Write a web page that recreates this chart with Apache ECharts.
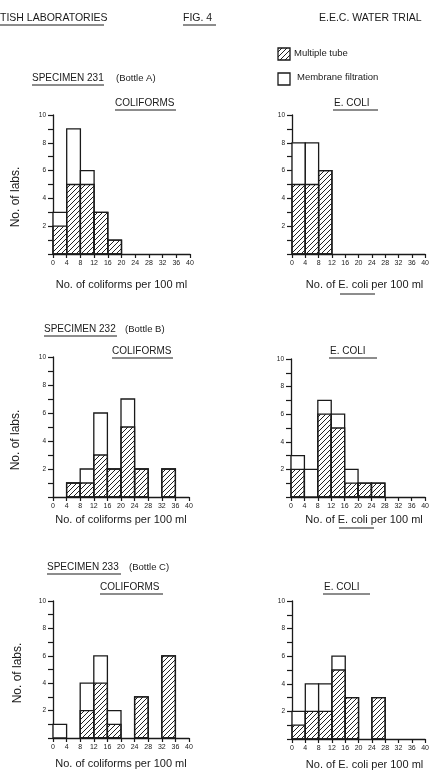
<!DOCTYPE html>
<html>
<head>
<meta charset="utf-8">
<title>FIG. 4 - E.E.C. water trial</title>
<script src="https://cdn.jsdelivr.net/npm/echarts@6/dist/echarts.min.js"></script>
<style>
    html,body{margin:0;padding:0;background:#fff;}
    #container{width:432px;height:771px;}
</style>
</head>
<body>
<div id="container"></div>
<script>
//bin start values (each bin is 4 wide, 0..40)
var binStarts = [0, 4, 8, 12, 16, 20, 24, 28, 32, 36];
var binWidth = 4;

//specimen 231 (bottle A)
var coli231Tube     = [2, 5, 5, 3, 1, 0, 0, 0, 0, 0];
var coli231Membrane = [3, 9, 6, 3, 1, 0, 0, 0, 0, 0];
var ecoli231Tube     = [5, 5, 6, 0, 0, 0, 0, 0, 0, 0];
var ecoli231Membrane = [8, 8, 6, 0, 0, 0, 0, 0, 0, 0];
//specimen 232 (bottle B)
var coli232Tube     = [0, 1, 1, 3, 2, 5, 2, 0, 2, 0];
var coli232Membrane = [0, 1, 2, 6, 2, 7, 2, 0, 2, 0];
var ecoli232Tube     = [2, 0, 6, 5, 1, 1, 1, 0, 0, 0];
var ecoli232Membrane = [3, 2, 7, 6, 2, 1, 1, 0, 0, 0];
//specimen 233 (bottle C)
var coli233Tube     = [0, 0, 2, 4, 1, 0, 3, 0, 6, 0];
var coli233Membrane = [1, 0, 4, 6, 2, 0, 3, 0, 6, 0];
var ecoli233Tube     = [1, 2, 2, 5, 3, 0, 3, 0, 0, 0];
var ecoli233Membrane = [2, 4, 4, 6, 3, 0, 3, 0, 0, 0];

var FONT = '"Liberation Sans", Arial, sans-serif';
var INK = '#1a1a1a';

//hatch pattern for multiple tube
function makeHatch(){
    var s = 5;
    var c = document.createElement('canvas');
    c.width = s; c.height = s;
    var ctx = c.getContext('2d');
    ctx.strokeStyle = '#222';
    ctx.lineWidth = 1;
    ctx.beginPath();
    ctx.moveTo(0, s); ctx.lineTo(s, 0);
    ctx.moveTo(-1, 1); ctx.lineTo(1, -1);
    ctx.moveTo(s - 1, s + 1); ctx.lineTo(s + 1, s - 1);
    ctx.stroke();
    return c;
}
var hatch = {image: makeHatch(), repeat: 'repeat'};

//panels: grid box + data
var panels = [
    {grid:{left:53, top:115, width:137, height:139}, tube:coli231Tube, membrane:coli231Membrane, name:'No. of coliforms per 100 ml', gap:25, pad:0},
    {grid:{left:292, top:115, width:135, height:139}, tube:ecoli231Tube, membrane:ecoli231Membrane, name:'No. of E. coli per 100 ml', gap:25, pad:12},
    {grid:{left:53, top:357, width:136, height:140}, tube:coli232Tube, membrane:coli232Membrane, name:'No. of coliforms per 100 ml', gap:17, pad:0},
    {grid:{left:291, top:359, width:136, height:138}, tube:ecoli232Tube, membrane:ecoli232Membrane, name:'No. of E. coli per 100 ml', gap:17, pad:12},
    {grid:{left:53, top:601, width:136, height:137}, tube:coli233Tube, membrane:coli233Membrane, name:'No. of coliforms per 100 ml', gap:20, pad:0},
    {grid:{left:292, top:601, width:136, height:139}, tube:ecoli233Tube, membrane:ecoli233Membrane, name:'No. of E. coli per 100 ml', gap:20, pad:12}
];

function binData(counts){
    var out = [];
    for(var i = 0; i < counts.length; i++){
        if(counts[i] > 0){
            out.push([binStarts[i], binStarts[i] + binWidth, counts[i]]);
        }
    }
    return out;
}

function histItem(fill){
    return function(params, api){
        var p0 = api.coord([api.value(0), 0]);
        var p1 = api.coord([api.value(1), api.value(2)]);
        return {
            type: 'rect',
            shape: {x: p0[0], y: p1[1], width: p1[0] - p0[0], height: p0[1] - p1[1]},
            style: {fill: fill, stroke: INK, lineWidth: 1.3}
        };
    };
}

var grids = [], xAxes = [], yAxes = [], series = [];
for(var i = 0; i < panels.length; i++){
    var p = panels[i];
    grids.push(p.grid);
    xAxes.push({
        type: 'value', gridIndex: i, min: 0, max: 40, interval: 4,
        name: p.name, nameLocation: 'middle', nameGap: p.gap,
        nameTextStyle: {fontFamily: FONT, fontSize: 11, color: INK, padding: [0, 0, 0, p.pad]},
        axisLine: {lineStyle: {color: INK, width: 1.3}},
        axisTick: {show: true, length: 4, lineStyle: {color: INK, width: 1.2}},
        axisLabel: {fontFamily: FONT, fontSize: 7, color: INK, margin: 6},
        splitLine: {show: false}
    });
    yAxes.push({
        type: 'value', gridIndex: i, min: 0, max: 10, interval: 1,
        axisLine: {show: true, lineStyle: {color: INK, width: 1.3}},
        axisTick: {show: true, length: 5, lineStyle: {color: INK, width: 1.2}},
        axisLabel: {
            fontFamily: FONT, fontSize: 6.5, color: INK, margin: 7,
            formatter: function(v){ return (v > 0 && v % 2 === 0) ? String(v) : ''; }
        },
        splitLine: {show: false}
    });
    //membrane filtration outlines first, hatched multiple tube over them
    series.push({
        name: 'Membrane filtration', type: 'custom', xAxisIndex: i, yAxisIndex: i,
        renderItem: histItem('#fff'), data: binData(p.membrane), silent: true
    });
    series.push({
        name: 'Multiple tube', type: 'custom', xAxisIndex: i, yAxisIndex: i,
        renderItem: histItem(hatch), data: binData(p.tube), silent: true
    });
}

//texts
function txt(str, x, y, size){
    return {type: 'text', x: x, y: y, style: {text: str, font: size + 'px ' + FONT, fill: INK, textVerticalAlign: 'middle'}};
}
function uline(x1, x2, y){
    return {type: 'line', shape: {x1: x1, y1: y, x2: x2, y2: y}, style: {stroke: INK, lineWidth: 1}};
}
function yName(x, cy){
    return {
        type: 'text', x: x, y: cy, rotation: Math.PI / 2,
        style: {text: 'No. of labs.', font: '12px ' + FONT, fill: INK, textAlign: 'center', textVerticalAlign: 'middle'}
    };
}

var graphic = [
    //header
    txt('TISH LABORATORIES', 0, 18, 10.5),
    uline(0, 104, 25),
    txt('FIG. 4', 183, 18, 10.5),
    uline(183, 216, 25),
    txt('E.E.C. WATER TRIAL', 319, 18, 10.5),
    //legend
    {type:'rect', shape:{x:278, y:48, width:12, height:12}, style:{fill:hatch, stroke:INK, lineWidth:1.3}},
    txt('Multiple tube', 294, 53, 9.5),
    {type:'rect', shape:{x:278, y:73, width:12, height:12}, style:{fill:'#fff', stroke:INK, lineWidth:1.3}},
    txt('Membrane filtration', 297, 77, 9.5),

    //specimen 231
    txt('SPECIMEN 231', 32, 78, 10),
    uline(32, 104, 85),
    txt('(Bottle A)', 116, 78, 9.5),
    txt('COLIFORMS', 115, 103, 10),
    uline(115, 176, 110),
    txt('E. COLI', 334, 103, 10),
    uline(333, 378, 110),
    yName(16, 197),
    uline(340, 375, 294),

    //specimen 232
    txt('SPECIMEN 232', 44, 329, 10),
    uline(44, 117, 336),
    txt('(Bottle B)', 125, 329, 9.5),
    txt('COLIFORMS', 112, 351, 10),
    uline(112, 173, 358),
    txt('E. COLI', 330, 351, 10),
    uline(329, 377, 358),
    yName(16, 440),
    uline(339, 374, 528),

    //specimen 233
    txt('SPECIMEN 233', 47, 567, 10),
    uline(47, 121, 574),
    txt('(Bottle C)', 129, 567, 9.5),
    txt('COLIFORMS', 100, 587, 10),
    uline(100, 163, 594),
    txt('E. COLI', 324, 587, 10),
    uline(323, 370, 594),
    yName(18, 673)
];

var option = {
    backgroundColor: '#fff',
    animation: false,
    grid: grids,
    xAxis: xAxes,
    yAxis: yAxes,
    series: series,
    graphic: graphic
};
var myChart = echarts.init(document.getElementById('container'), null, {renderer: 'canvas'});
myChart.setOption(option);
</script>
</body>
</html>
